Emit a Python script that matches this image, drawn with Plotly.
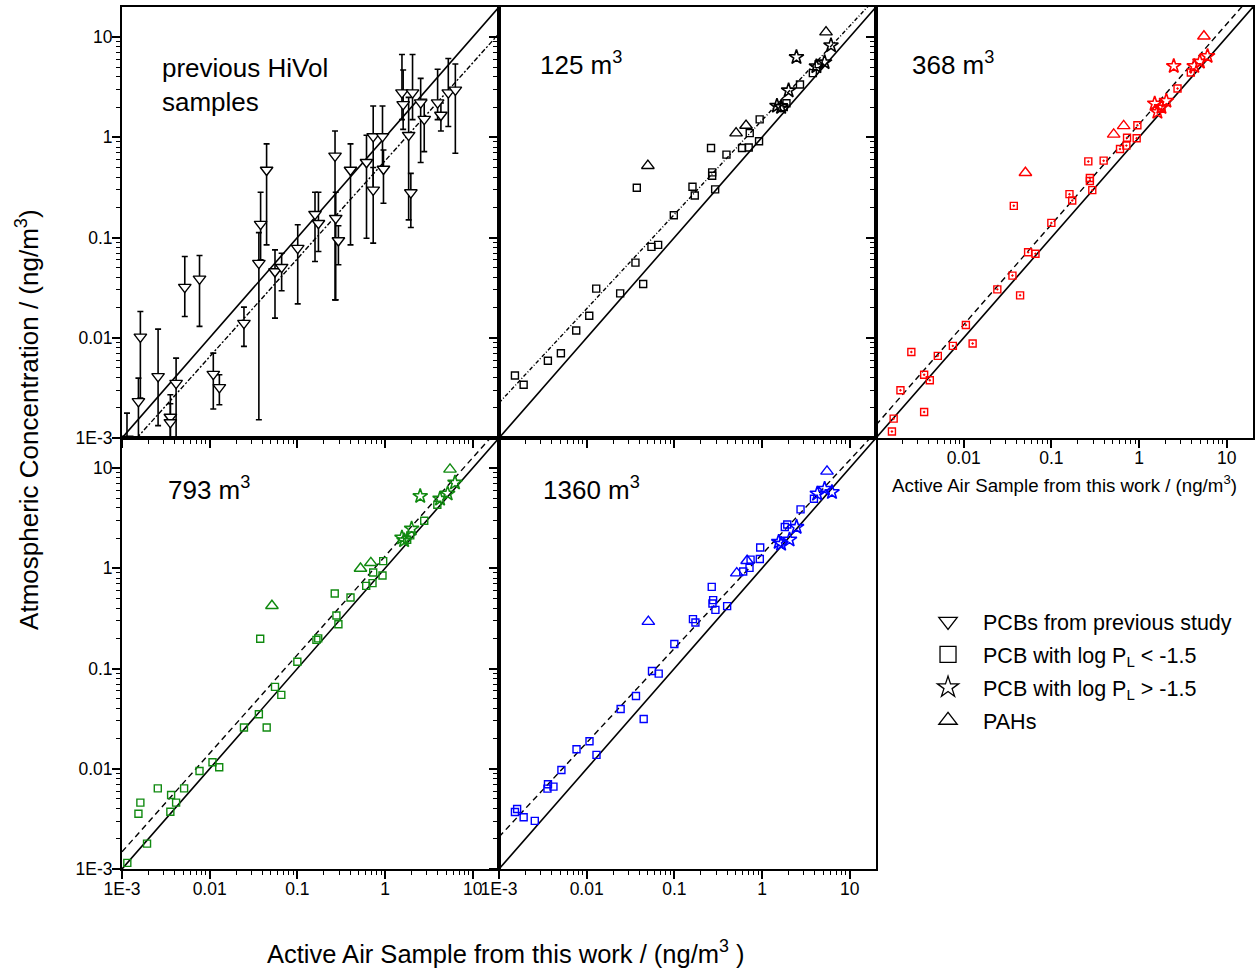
import plotly.graph_objects as go
import numpy as np

# ---------------- data ----------------
# Panel 1: previous HiVol samples (x, y, upper, lower)
prev_x = [0.00114, 0.00154, 0.00162, 0.00258, 0.00356, 0.00356, 0.00414, 0.0052, 0.00766, 0.011,
          0.0129, 0.0246, 0.0364, 0.0381, 0.0446, 0.0556, 0.0662, 0.101, 0.159, 0.174,
          0.269, 0.274, 0.294, 0.404, 0.615, 0.733, 0.733, 0.936, 0.96, 1.56,
          1.61, 2.06, 1.86, 1.97, 2.55, 2.8, 3.98, 4.34, 5.27, 6.34]
prev_y = [0.00098, 0.00232, 0.0102, 0.00412, 0.00162, 0.00143, 0.00353, 0.032, 0.0387, 0.00434,
          0.0032, 0.014, 0.0555, 0.136, 0.472, 0.0458, 0.0506, 0.0784, 0.171, 0.139,
          0.652, 0.156, 0.0933, 0.472, 0.564, 1.02, 0.299, 1.02, 0.483, 2.79,
          2.13, 2.79, 1.05, 0.281, 2.22, 1.52, 2.22, 1.67, 2.79, 2.97]
prev_hi = [0.00177, 0.00396, 0.0183, 0.0122, 0.0027, 0.0022, 0.00627, 0.0647, 0.0662, 0.00703,
           0.00428, 0.0202, 0.112, 0.283, 0.859, 0.0754, 0.0698, 0.134, 0.283, 0.283,
           1.156, 0.283, 0.131, 0.859, 1.05, 2.05, 0.5, 2.05, 0.748, 6.7,
           4.69, 6.7, 2.5, 0.437, 3.87, 2.39, 4.77, 2.2, 6.12, 5.38]
prev_lo = [0.0007, 0.0008, 0.0025, 0.00133, 0.0008, 0.0008, 0.0008, 0.0163, 0.013, 0.00195,
           0.00215, 0.0082, 0.00152, 0.06, 0.0845, 0.0157, 0.0294, 0.0218, 0.0577, 0.0725,
           0.0239, 0.0239, 0.0535, 0.0845, 0.0984, 0.3, 0.0879, 0.5, 0.22, 1.5,
           1.2, 1.5, 0.15, 0.126, 0.56, 0.72, 1.5, 1.156, 1.28, 0.694]

# Panel 2: 125 m3
sq125_x = [0.00152, 0.00191, 0.00361, 0.00508, 0.0076, 0.0107, 0.01285, 0.0241, 0.036, 0.0373,
           0.0441, 0.0548, 0.0653, 0.0986, 0.161, 0.171, 0.262, 0.270, 0.270, 0.292,
           0.393, 0.592, 0.705, 0.724, 0.925, 0.94, 1.77, 1.9, 2.71, 3.8, 4.43]
sq125_y = [0.0042, 0.0034, 0.0059, 0.0070, 0.0118, 0.0166, 0.0309, 0.0277, 0.0562, 0.314,
           0.0344, 0.0807, 0.0845, 0.167, 0.321, 0.263, 0.782, 0.447, 0.414, 0.302,
           0.671, 0.782, 0.79, 1.1, 0.912, 1.51, 2.0, 2.19, 3.36, 4.37, 5.37]
st125_x = [1.48, 1.65, 2.01, 2.47, 4.17, 5.17, 6.12]
st125_y = [2.06, 2.0, 2.93, 6.3, 5.1, 5.6, 8.25]
tr125_x = [0.0499, 0.506, 0.657, 5.37]
tr125_y = [0.521, 1.1, 1.31, 11.2]

# Panel 3: 368 m3
sq368_x = [0.00152, 0.00159, 0.0019, 0.00253, 0.00354, 0.00354, 0.00411, 0.00507, 0.00753, 0.0106,
           0.01265, 0.0242, 0.036, 0.0373, 0.044, 0.0543, 0.0659, 0.1, 0.161, 0.173,
           0.264, 0.275, 0.275, 0.293, 0.395, 0.607, 0.717, 0.73, 0.94, 0.958, 1.8, 2.75, 3.9]
sq368_y = [0.00116, 0.00156, 0.0030, 0.0072, 0.00427, 0.00182, 0.00377, 0.0066, 0.0083, 0.0134,
           0.00877, 0.0304, 0.0417, 0.207, 0.0265, 0.0714, 0.069, 0.140, 0.271, 0.234,
           0.575, 0.392, 0.366, 0.297, 0.585, 0.764, 0.826, 0.99, 0.98, 1.32, 1.93, 3.07, 4.43]
st368_x = [1.51, 1.62, 1.8, 2.05, 2.49, 4.26, 4.94, 6.05]
st368_y = [2.17, 1.79, 2.0, 2.31, 5.13, 5.13, 5.67, 6.46]
tr368_x = [0.0506, 0.514, 0.668, 5.5]
tr368_y = [0.443, 1.07, 1.30, 10.2]

# Panel 4: 793 m3
sq793_x = [0.00115, 0.00154, 0.00162, 0.00193, 0.00256, 0.00363, 0.00356, 0.00414, 0.00511, 0.00766,
           0.01077, 0.01285, 0.0246, 0.0364, 0.0377, 0.0447, 0.0556, 0.0656, 0.1, 0.165,
           0.173, 0.267, 0.279, 0.294, 0.404, 0.61, 0.72, 0.733, 0.936, 0.953, 1.79, 1.94, 2.8, 3.95]
sq793_y = [0.00115, 0.00356, 0.00459, 0.00179, 0.00638, 0.00548, 0.00373, 0.00459, 0.00638, 0.0095,
           0.0116, 0.01035, 0.0258, 0.035, 0.198, 0.0258, 0.0656, 0.0546, 0.117, 0.193,
           0.2, 0.561, 0.338, 0.277, 0.512, 0.668, 0.711, 0.908, 0.848, 1.18, 1.93, 2.13, 2.98, 4.31]
st793_x = [1.56, 1.65, 2.01, 2.52, 4.24, 5.18, 6.28]
st793_y = [2.02, 1.9, 2.48, 5.25, 4.94, 5.55, 7.14]
tr793_x = [0.0513, 0.525, 0.689, 5.51]
tr793_y = [0.423, 0.995, 1.135, 9.7]

# Panel 5: 1360 m3
sq1360_x = [0.00152, 0.00161, 0.00191, 0.00256, 0.00357, 0.00362, 0.00418, 0.00515, 0.00766, 0.01077,
            0.01294, 0.0244, 0.0365, 0.0447, 0.0556, 0.0663, 0.1, 0.163, 0.174, 0.267,
            0.277, 0.272, 0.294, 0.4, 0.61, 0.72, 0.74, 0.944, 0.953, 1.82, 1.94, 2.75, 3.91]
sq1360_y = [0.00371, 0.00397, 0.00328, 0.00302, 0.00634, 0.0070, 0.00663, 0.00973, 0.01566, 0.0188,
            0.01375, 0.0395, 0.0533, 0.0314, 0.0946, 0.089, 0.176, 0.311, 0.288, 0.653,
            0.481, 0.445, 0.385, 0.419, 0.93, 1.01, 1.22, 1.24, 1.61, 2.58, 2.74, 3.87, 4.94]
st1360_x = [1.55, 1.65, 2.06, 2.48, 4.27, 5.18, 6.28]
st1360_y = [1.83, 1.75, 1.93, 2.58, 5.55, 6.2, 5.75]
tr1360_x = [0.0505, 0.515, 0.676, 5.51]
tr1360_y = [0.294, 0.895, 1.19, 9.27]

# regression fits in log space (slope, intercept)
fit_prev = (0.977, -0.235)
fit125 = (0.94, 0.17)
fit368 = (1.0, 0.13)
fit793 = (0.983, 0.12)
fit1360 = (0.94, 0.14)

panel_labels = ["previous HiVol<br>samples", "125 m<sup>3</sup>", "368 m<sup>3</sup>",
                "793 m<sup>3</sup>", "1360 m<sup>3</sup>"]
major_vals = [0.001, 0.01, 0.1, 1, 10]
major_text = ["1E-3", "0.01", "0.1", "1", "10"]

# ---------------- figure ----------------
FONT = "Liberation Sans, Arial, sans-serif"
fig = go.Figure()

XMAX = 10 ** 1.3
line_x = np.logspace(-3, 1.3, 60)

def add_lines(n, fit, dash):
    ax = "" if n == 1 else str(n)
    fig.add_trace(go.Scatter(x=line_x, y=line_x, mode="lines", line=dict(color="black", width=1.6),
                             xaxis="x" + ax, yaxis="y" + ax, showlegend=False, hoverinfo="skip"))
    m, b = fit
    fy = 10 ** (m * np.log10(line_x) + b)
    fig.add_trace(go.Scatter(x=line_x, y=fy, mode="lines", line=dict(color="black", width=1.4, dash=dash),
                             xaxis="x" + ax, yaxis="y" + ax, showlegend=False, hoverinfo="skip"))

# panel 1
add_lines(1, fit_prev, "5px,2px,2px,2px")
py = np.array(prev_y)
fig.add_trace(go.Scatter(
    x=prev_x, y=prev_y, mode="markers", xaxis="x", yaxis="y", showlegend=False,
    marker=dict(symbol="triangle-down", size=11, color="white", line=dict(color="black", width=1.4)),
    error_y=dict(type="data", symmetric=False, array=list(np.array(prev_hi) - py),
                 arrayminus=list(py - np.array(prev_lo)), color="black", thickness=1.6, width=3)))

def add_panel(n, sx, sy, tx, ty, rx, ry, color, sqsym):
    ax = str(n)
    fig.add_trace(go.Scatter(x=sx, y=sy, mode="markers", xaxis="x" + ax, yaxis="y" + ax, showlegend=False,
                             marker=dict(symbol=sqsym, size=7, color=color, line=dict(color=color, width=1.4))))
    fig.add_trace(go.Scatter(x=tx, y=ty, mode="markers", xaxis="x" + ax, yaxis="y" + ax, showlegend=False,
                             marker=dict(symbol="star-open", size=11, color=color, line=dict(color=color, width=1.6))))
    fig.add_trace(go.Scatter(x=rx, y=ry, mode="markers", xaxis="x" + ax, yaxis="y" + ax, showlegend=False,
                             marker=dict(symbol="triangle-up-open", size=11, color=color, line=dict(color=color, width=1.4))))

add_lines(2, fit125, "4px,2px,1px,2px")
add_panel(2, sq125_x, sq125_y, st125_x, st125_y, tr125_x, tr125_y, "black", "square-open")
add_lines(3, fit368, "6px,4px")
add_panel(3, sq368_x, sq368_y, st368_x, st368_y, tr368_x, tr368_y, "#ff0000", "square-open-dot")
add_lines(4, fit793, "6px,4px")
add_panel(4, sq793_x, sq793_y, st793_x, st793_y, tr793_x, tr793_y, "#108a10", "square-open")
add_lines(5, fit1360, "6px,4px")
add_panel(5, sq1360_x, sq1360_y, st1360_x, st1360_y, tr1360_x, tr1360_y, "#0000ff", "square-open")

# legend entries
legend_items = [("triangle-down-open", "PCBs from previous study"),
                ("square-open", "PCB with log P<sub>L</sub> < -1.5"),
                ("star-open", "PCB with log P<sub>L</sub> > -1.5"),
                ("triangle-up-open", "PAHs")]
for i, (sym, name) in enumerate(legend_items):
    fig.add_trace(go.Scatter(x=[None], y=[None], mode="markers", name=name, xaxis="x5", yaxis="y5",
                             legendgroup=str(i),
                             marker=dict(symbol=sym, size=16, color="black", line=dict(color="black", width=1.3))))

minor_vals = [k * 10.0 ** e for e in range(-3, 2) for k in range(2, 10) if k * 10.0 ** e <= XMAX]

domains_x = [[0, 1 / 3], [1 / 3, 2 / 3], [2 / 3, 1], [0, 1 / 3], [1 / 3, 2 / 3]]
domains_y = [[0.5, 1], [0.5, 1], [0.5, 1], [0, 0.5], [0, 0.5]]
show_xlabels = [False, False, True, True, True]
show_ylabels = [True, False, False, True, False]

layout = dict(width=1257, height=968, margin=dict(l=122, r=4, t=7, b=99, autoexpand=False),
              paper_bgcolor="white", plot_bgcolor="white",
              font=dict(family=FONT, color="black", size=17))
for i in range(5):
    n = "" if i == 0 else str(i + 1)
    xt_vals = major_vals if i != 2 else major_vals[1:]
    xt_text = major_text if i != 2 else major_text[1:]
    layout["xaxis" + n] = dict(
        type="log", range=[-3, 1.3], domain=domains_x[i], anchor="y" + n, automargin=False,
        showline=True, linecolor="black", linewidth=2, mirror=True, showgrid=False, zeroline=False,
        ticks="outside", ticklen=8, tickwidth=1.5, tickcolor="black",
        tickvals=xt_vals, ticktext=xt_text, showticklabels=show_xlabels[i], ticklabelstandoff=-5,
        tickfont=dict(size=17.5, family=FONT),
        minor=dict(tickvals=minor_vals, ticks="outside", ticklen=4, tickwidth=1.2, tickcolor="black", showgrid=False))
    layout["yaxis" + n] = dict(
        type="log", range=[-3, 1.3], domain=domains_y[i], anchor="x" + n, automargin=False,
        showline=True, linecolor="black", linewidth=2, mirror=True, showgrid=False, zeroline=False,
        ticks="outside", ticklen=8, tickwidth=1.5, tickcolor="black",
        tickvals=major_vals, ticktext=major_text, showticklabels=show_ylabels[i], ticklabelstandoff=-4,
        tickfont=dict(size=17.5, family=FONT),
        minor=dict(tickvals=minor_vals, ticks="outside", ticklen=4, tickwidth=1.2, tickcolor="black", showgrid=False))

layout["xaxis3"]["title"] = dict(text="Active Air Sample from this work / (ng/m<sup>3</sup>)",
                                 font=dict(size=18.7, family=FONT), standoff=12)

layout["legend"] = dict(x=0.6994, y=0.311, xanchor="left", yanchor="top", bgcolor="rgba(0,0,0,0)",
                        font=dict(size=21.5, family=FONT), traceorder="grouped", tracegroupgap=2,
                        itemsizing="trace", itemwidth=60)

label_pos = [(0.0336, 0.949), (0.3678, 0.956), (0.6967, 0.956), (0.0389, 0.463), (0.3705, 0.463)]
annotations = []
for (px, pyv), txt in zip(label_pos, panel_labels):
    annotations.append(dict(text=txt, x=px, y=pyv, xref="paper", yref="paper", xanchor="left", yanchor="top",
                            showarrow=False, align="left", font=dict(size=26, family=FONT)))
annotations.append(dict(text="Active Air Sample from this work / (ng/m<sup>3</sup> )", x=0.3395, y=-0.0963,
                        xref="paper", yref="paper", xanchor="center", yanchor="middle", showarrow=False,
                        font=dict(size=25.5, family=FONT)))
annotations.append(dict(text="Atmospheric Concentration / (ng/m<sup>3</sup>)", x=-0.0831, y=0.521,
                        xref="paper", yref="paper", xanchor="center", yanchor="middle", showarrow=False,
                        textangle=-90, font=dict(size=26, family=FONT)))
layout["annotations"] = annotations

fig.update_layout(**layout)
fig.write_html("out.html", config={"displayModeBar": False},
               post_script="document.body.style.margin='0px';document.body.style.padding='0px';")
